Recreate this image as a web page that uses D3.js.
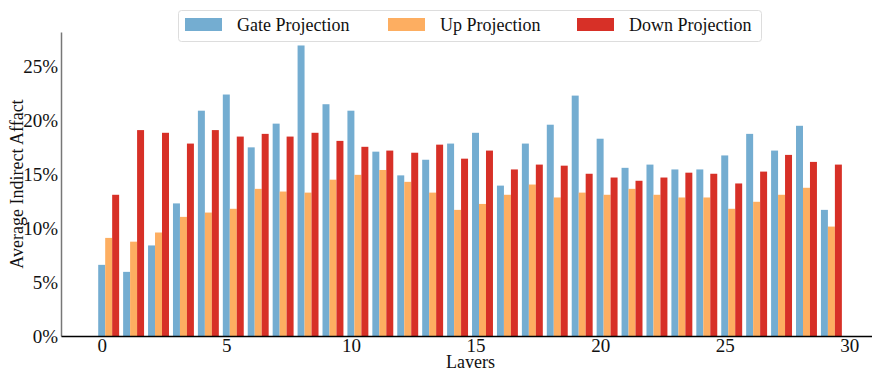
<!DOCTYPE html>
<html>
<head>
<meta charset="utf-8">
<script src="https://cdn.jsdelivr.net/npm/d3@7"></script>
<style>
  body { margin: 0; background: #fff; }
  text { font-family: "Liberation Serif", "Times New Roman", serif; fill: #111; }
</style>
</head>
<body>
<div id="chart"></div>
<script>
// layers 0..29
const layers = d3.range(30);
const seriesNames = ['Gate Projection', 'Up Projection', 'Down Projection'];
const colors = ['#74add1', '#fdae61', '#d73027'];

const gate = [6.6, 5.95, 8.4, 12.3, 20.9, 22.4, 17.5, 19.7, 26.95, 21.5,
              20.9, 17.1, 14.9, 16.35, 17.85, 18.85, 13.95, 17.85, 19.6, 22.3,
              18.3, 15.6, 15.9, 15.45, 15.45, 16.75, 18.75, 17.2, 19.5, 11.7];
const up = [9.1, 8.75, 9.6, 11.05, 11.45, 11.8, 13.65, 13.4, 13.3, 14.5,
            14.95, 15.4, 14.3, 13.3, 11.7, 12.25, 13.1, 14.05, 12.85, 13.3,
            13.1, 13.65, 13.1, 12.85, 12.85, 11.8, 12.45, 13.1, 13.75, 10.15];
const down = [13.1, 19.1, 18.85, 17.85, 19.1, 18.5, 18.75, 18.5, 18.85, 18.1,
              17.55, 17.2, 17.0, 17.75, 16.45, 17.2, 15.45, 15.9, 15.8, 15.05,
              14.7, 14.4, 14.7, 15.15, 15.05, 14.15, 15.25, 16.8, 16.15, 15.9];
const series = [gate, up, down];
const yTicks = [0, 5, 10, 15, 20, 25];
const xTicks = [0, 5, 10, 15, 20, 25, 30];

const width = 872, height = 368;
const svg = d3.select('#chart').append('svg')
    .attr('width', width)
    .attr('height', height);

const barW = 0.28;
const x = d3.scaleLinear()
    .domain([-1.633, 31.19])
    .range([61, 879]);
const y = d3.scaleLinear()
    .domain([0, 28.2])
    .range([336, 32]);

// bars
series.forEach((vals, s) => {
    svg.append('g').selectAll('rect')
        .data(vals)
        .enter()
        .append('rect')
        .attr('x', (d, i) => x(layers[i] + s * barW - barW / 2))
        .attr('width', x(barW) - x(0))
        .attr('y', d => y(d))
        .attr('height', d => y(0) - y(d))
        .attr('fill', colors[s]);
});

// axes
const yAxis = d3.axisLeft(y)
    .tickValues(yTicks)
    .tickSize(0)
    .tickPadding(3)
    .tickFormat(d => d + '%');
const gy = svg.append('g')
    .attr('transform', 'translate(61,0)')
    .call(yAxis);
gy.select('.domain').attr('stroke', '#777').attr('stroke-width', 1.5);
gy.selectAll('text')
    .style('font-family', '"Liberation Serif", serif')
    .style('font-size', '19px')
    .attr('fill', '#111');

const xAxis = d3.axisBottom(x)
    .tickValues(xTicks)
    .tickSize(0)
    .tickPadding(2);
const gx = svg.append('g')
    .attr('transform', 'translate(0,336)')
    .call(xAxis);
gx.select('.domain').attr('stroke', '#000').attr('stroke-width', 1.3);
gx.selectAll('text')
    .style('font-family', '"Liberation Serif", serif')
    .style('font-size', '19px')
    .attr('fill', '#111');

// axis titles
svg.append('text')
    .attr('x', x(14.8))
    .attr('y', 368)
    .attr('text-anchor', 'middle')
    .style('font-size', '18px')
    .text('Layers');

svg.append('text')
    .attr('transform', 'translate(23,184) rotate(-90)')
    .attr('text-anchor', 'middle')
    .style('font-size', '18px')
    .text('Average Indirect Affact');

// legend
const legend = svg.append('g');
legend.append('rect')
    .attr('x', 178.5).attr('y', 10.5)
    .attr('width', 583).attr('height', 31)
    .attr('rx', 3)
    .attr('fill', '#fff')
    .attr('stroke', '#ddd');
const legendX = [185, 388, 577];
seriesNames.forEach((name, i) => {
    legend.append('rect')
        .attr('x', legendX[i]).attr('y', 18)
        .attr('width', 37).attr('height', 13)
        .attr('fill', colors[i]);
    legend.append('text')
        .attr('x', legendX[i] + 52)
        .attr('y', 31)
        .style('font-size', '18px')
        .text(name);
});
</script>
</body>
</html>
